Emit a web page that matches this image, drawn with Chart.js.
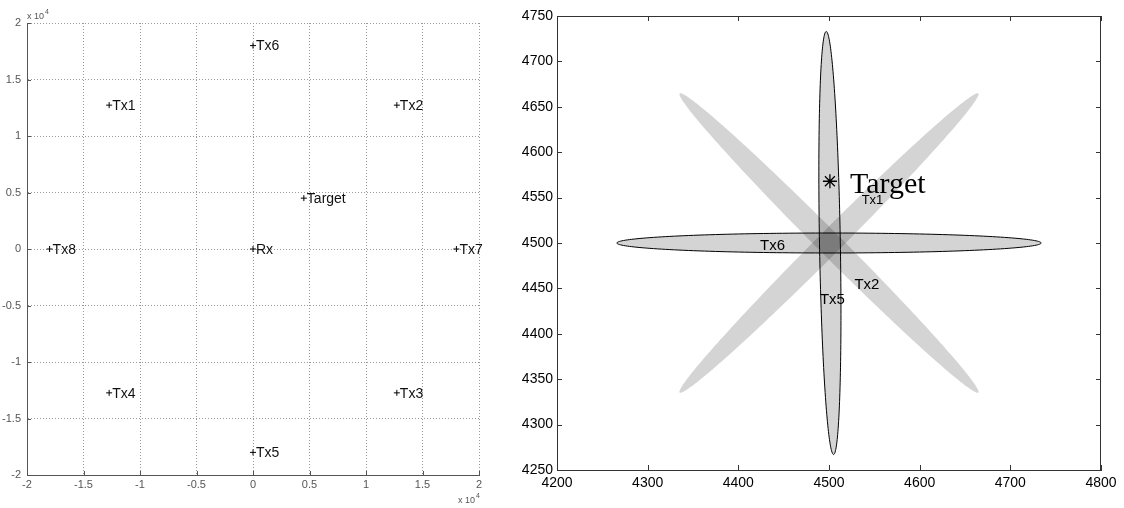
<!DOCTYPE html>
<html>
<head>
<meta charset="utf-8">
<script src="https://cdn.jsdelivr.net/npm/chart.js@4.4.0/dist/chart.umd.min.js"></script>
<style>
body { margin: 0; background: #fff; width: 1124px; height: 508px; overflow: hidden; position: relative; }
#leftCanvas { position: absolute; left: 0; top: 0; }
#rightCanvas { position: absolute; left: 520px; top: 0; }
</style>
</head>
<body>
<canvas id="leftCanvas" width="520" height="508"></canvas>
<canvas id="rightCanvas" width="604" height="508"></canvas>
<script>
// ---- vue globale : emetteurs, recepteur, cible (m)
const nodeNames = ["Tx1", "Tx2", "Tx3", "Tx4", "Tx5", "Tx6", "Tx7", "Tx8", "Rx", "Target"];
const nodeX = [-12730, 12730, 12730, -12730, 0, 0, 18000, -18000, 0, 4500];
const nodeY = [12730, 12730, -12730, -12730, -18000, 18000, 0, 0, 0, 4500];
const leftTicks = [-2, -1.5, -1, -0.5, 0, 0.5, 1, 1.5, 2]; // x 10^4

// ---- zoom autour de la cible : ellipses d'incertitude
const ellCx = [4500, 4501, 4500, 4500];
const ellCy = [4500, 4500, 4500, 4500];
const ellA = [234, 233, 233, 233];
const ellB = [11, 11.5, 13, 13];
const ellAngle = [0, 91, 45, 135];
const ellOutline = [true, true, false, false];

const targetX = [4501];
const targetY = [4568];
const zoomNames = ["Tx6", "Tx5", "Tx2", "Tx1"];
const zoomNameX = [4424, 4490, 4528, 4536];
const zoomNameY = [4497, 4437, 4454, 4547];
const rightXTicks = [4200, 4300, 4400, 4500, 4600, 4700, 4800];
const rightYTicks = [4250, 4300, 4350, 4400, 4450, 4500, 4550, 4600, 4650, 4700, 4750];

const SANS = "'Liberation Sans', Arial, sans-serif";

// petits traits de graduation vers l'interieur (style matlab)
function innerTicks(len, color, box) {
    return {
        id: "innerTicks",
        afterDraw(chart) {
            const ctx = chart.ctx;
            const a = chart.chartArea;
            const sx = chart.scales.x, sy = chart.scales.y;
            ctx.save();
            ctx.strokeStyle = color;
            ctx.lineWidth = 1;
            ctx.beginPath();
            sx.ticks.forEach(t => {
                const px = Math.round(sx.getPixelForValue(t.value)) + 0.5;
                ctx.moveTo(px, a.bottom); ctx.lineTo(px, a.bottom - len);
                if (box) { ctx.moveTo(px, a.top); ctx.lineTo(px, a.top + len); }
            });
            sy.ticks.forEach(t => {
                const py = Math.round(sy.getPixelForValue(t.value)) + 0.5;
                ctx.moveTo(a.left, py); ctx.lineTo(a.left + len, py);
                if (box) { ctx.moveTo(a.right, py); ctx.lineTo(a.right - len, py); }
            });
            if (box) {
                ctx.moveTo(a.left, a.top + 0.5); ctx.lineTo(a.right, a.top + 0.5);
                ctx.moveTo(a.right - 0.5, a.top); ctx.lineTo(a.right - 0.5, a.bottom);
            }
            ctx.stroke();
            ctx.restore();
        }
    };
}

// etiquettes a cote des points
const nodeLabels = {
    id: "nodeLabels",
    afterDatasetsDraw(chart) {
        const ctx = chart.ctx;
        const meta = chart.getDatasetMeta(0);
        ctx.save();
        ctx.font = "14px " + SANS;
        ctx.fillStyle = "#111";
        ctx.textBaseline = "middle";
        meta.data.forEach((pt, i) => ctx.fillText(nodeNames[i], pt.x + 3, pt.y + 1));
        // x 10^4
        const a = chart.chartArea;
        const exp = (x, y) => {
            ctx.font = "9px " + SANS;
            ctx.fillStyle = "#555";
            ctx.textBaseline = "alphabetic";
            ctx.fillText("x 10", x, y);
            const w = ctx.measureText("x 10").width;
            ctx.font = "7px " + SANS;
            ctx.fillText("4", x + w + 1, y - 5);
        };
        exp(a.left, a.top - 4);
        exp(a.right - 21, 503);
        ctx.restore();
    }
};

const leftChart = new Chart(document.getElementById("leftCanvas"), {
    type: "scatter",
    data: {
        datasets: [{
            data: nodeX.map((x, i) => ({ x: x, y: nodeY[i] })),
            pointStyle: "cross",
            pointRadius: 3,
            borderColor: "#000",
            borderWidth: 1
        }]
    },
    options: {
        responsive: false,
        animation: false,
        layout: { padding: { top: 23, right: 41, bottom: 0, left: 0 } },
        plugins: { legend: { display: false }, tooltip: { enabled: false } },
        scales: {
            x: {
                type: "linear", min: -20000, max: 20000,
                afterBuildTicks: s => { s.ticks = leftTicks.map(v => ({ value: v * 1e4 })); },
                afterFit: s => { s.height = 33; },
                ticks: { callback: v => String(v / 1e4), font: { size: 11, family: SANS }, color: "#555", padding: 3, maxRotation: 0, autoSkip: false },
                grid: { color: "#999", drawTicks: false },
                border: { color: "#555", dash: [1, 2] }
            },
            y: {
                type: "linear", min: -20000, max: 20000,
                afterBuildTicks: s => { s.ticks = leftTicks.map(v => ({ value: v * 1e4 })); },
                afterFit: s => { s.width = 27; },
                ticks: { callback: v => String(v / 1e4), font: { size: 11, family: SANS }, color: "#555", padding: 6, autoSkip: false },
                grid: { color: "#999", drawTicks: false },
                border: { color: "#555", dash: [1, 2] }
            }
        }
    },
    plugins: [nodeLabels, innerTicks(4, "#555", false)]
});

// ellipses tracees dans l'espace des donnees puis passees par les echelles
const ellipses = {
    id: "ellipses",
    beforeDatasetsDraw(chart) {
        const ctx = chart.ctx;
        const sx = chart.scales.x, sy = chart.scales.y;
        const a = chart.chartArea;
        const path = i => {
            const th = ellAngle[i] * Math.PI / 180;
            ctx.beginPath();
            for (let k = 0; k <= 200; k++) {
                const t = k / 200 * 2 * Math.PI;
                const u = ellA[i] * Math.cos(t), v = ellB[i] * Math.sin(t);
                const dx = ellCx[i] + u * Math.cos(th) - v * Math.sin(th);
                const dy = ellCy[i] + u * Math.sin(th) + v * Math.cos(th);
                const px = sx.getPixelForValue(dx), py = sy.getPixelForValue(dy);
                if (k === 0) ctx.moveTo(px, py); else ctx.lineTo(px, py);
            }
            ctx.closePath();
        };
        ctx.save();
        ctx.beginPath();
        ctx.rect(a.left, a.top, a.right - a.left, a.bottom - a.top);
        ctx.clip();
        for (let i = 0; i < ellA.length; i++) {
            path(i);
            ctx.fillStyle = "rgba(0,0,0,0.17)";
            ctx.fill();
        }
        for (let i = 0; i < ellA.length; i++) {
            if (!ellOutline[i]) continue;
            path(i);
            ctx.strokeStyle = "#000";
            ctx.lineWidth = 1;
            ctx.stroke();
        }
        ctx.restore();
    },
    afterDatasetsDraw(chart) {
        const ctx = chart.ctx;
        const sx = chart.scales.x, sy = chart.scales.y;
        ctx.save();
        ctx.fillStyle = "#000";
        ctx.textBaseline = "middle";
        zoomNames.forEach((n, i) => {
            ctx.font = (n === "Tx1" ? "13px " : "15px ") + SANS;
            ctx.fillText(n, sx.getPixelForValue(zoomNameX[i]), sy.getPixelForValue(zoomNameY[i]));
        });
        ctx.font = "30px 'Liberation Serif', 'Times New Roman', serif";
        ctx.textBaseline = "alphabetic";
        ctx.fillText("Target", sx.getPixelForValue(targetX[0]) + 20, sy.getPixelForValue(targetY[0]) + 12);
        ctx.restore();
    }
};

const rightChart = new Chart(document.getElementById("rightCanvas"), {
    type: "scatter",
    data: {
        datasets: [{
            data: targetX.map((x, i) => ({ x: x, y: targetY[i] })),
            pointStyle: "star",
            pointRadius: 7,
            borderColor: "#000",
            borderWidth: 1.3
        }]
    },
    options: {
        responsive: false,
        animation: false,
        layout: { padding: { top: 16, right: 23, bottom: 0, left: 0 } },
        plugins: { legend: { display: false }, tooltip: { enabled: false } },
        scales: {
            x: {
                type: "linear", min: 4200, max: 4800,
                afterBuildTicks: s => { s.ticks = rightXTicks.map(v => ({ value: v })); },
                afterFit: s => { s.height = 38; },
                ticks: { font: { size: 14, family: SANS }, color: "#000", padding: 5, maxRotation: 0, autoSkip: false, callback: v => String(v) },
                grid: { display: false, drawTicks: false },
                border: { color: "#333" }
            },
            y: {
                type: "linear", min: 4250, max: 4750,
                afterBuildTicks: s => { s.ticks = rightYTicks.map(v => ({ value: v })); },
                afterFit: s => { s.width = 37; },
                ticks: { font: { size: 14, family: SANS }, color: "#000", padding: 4, autoSkip: false, callback: v => String(v) },
                grid: { display: false, drawTicks: false },
                border: { color: "#333" }
            }
        }
    },
    plugins: [ellipses, innerTicks(5, "#333", true)]
});
</script>
</body>
</html>
